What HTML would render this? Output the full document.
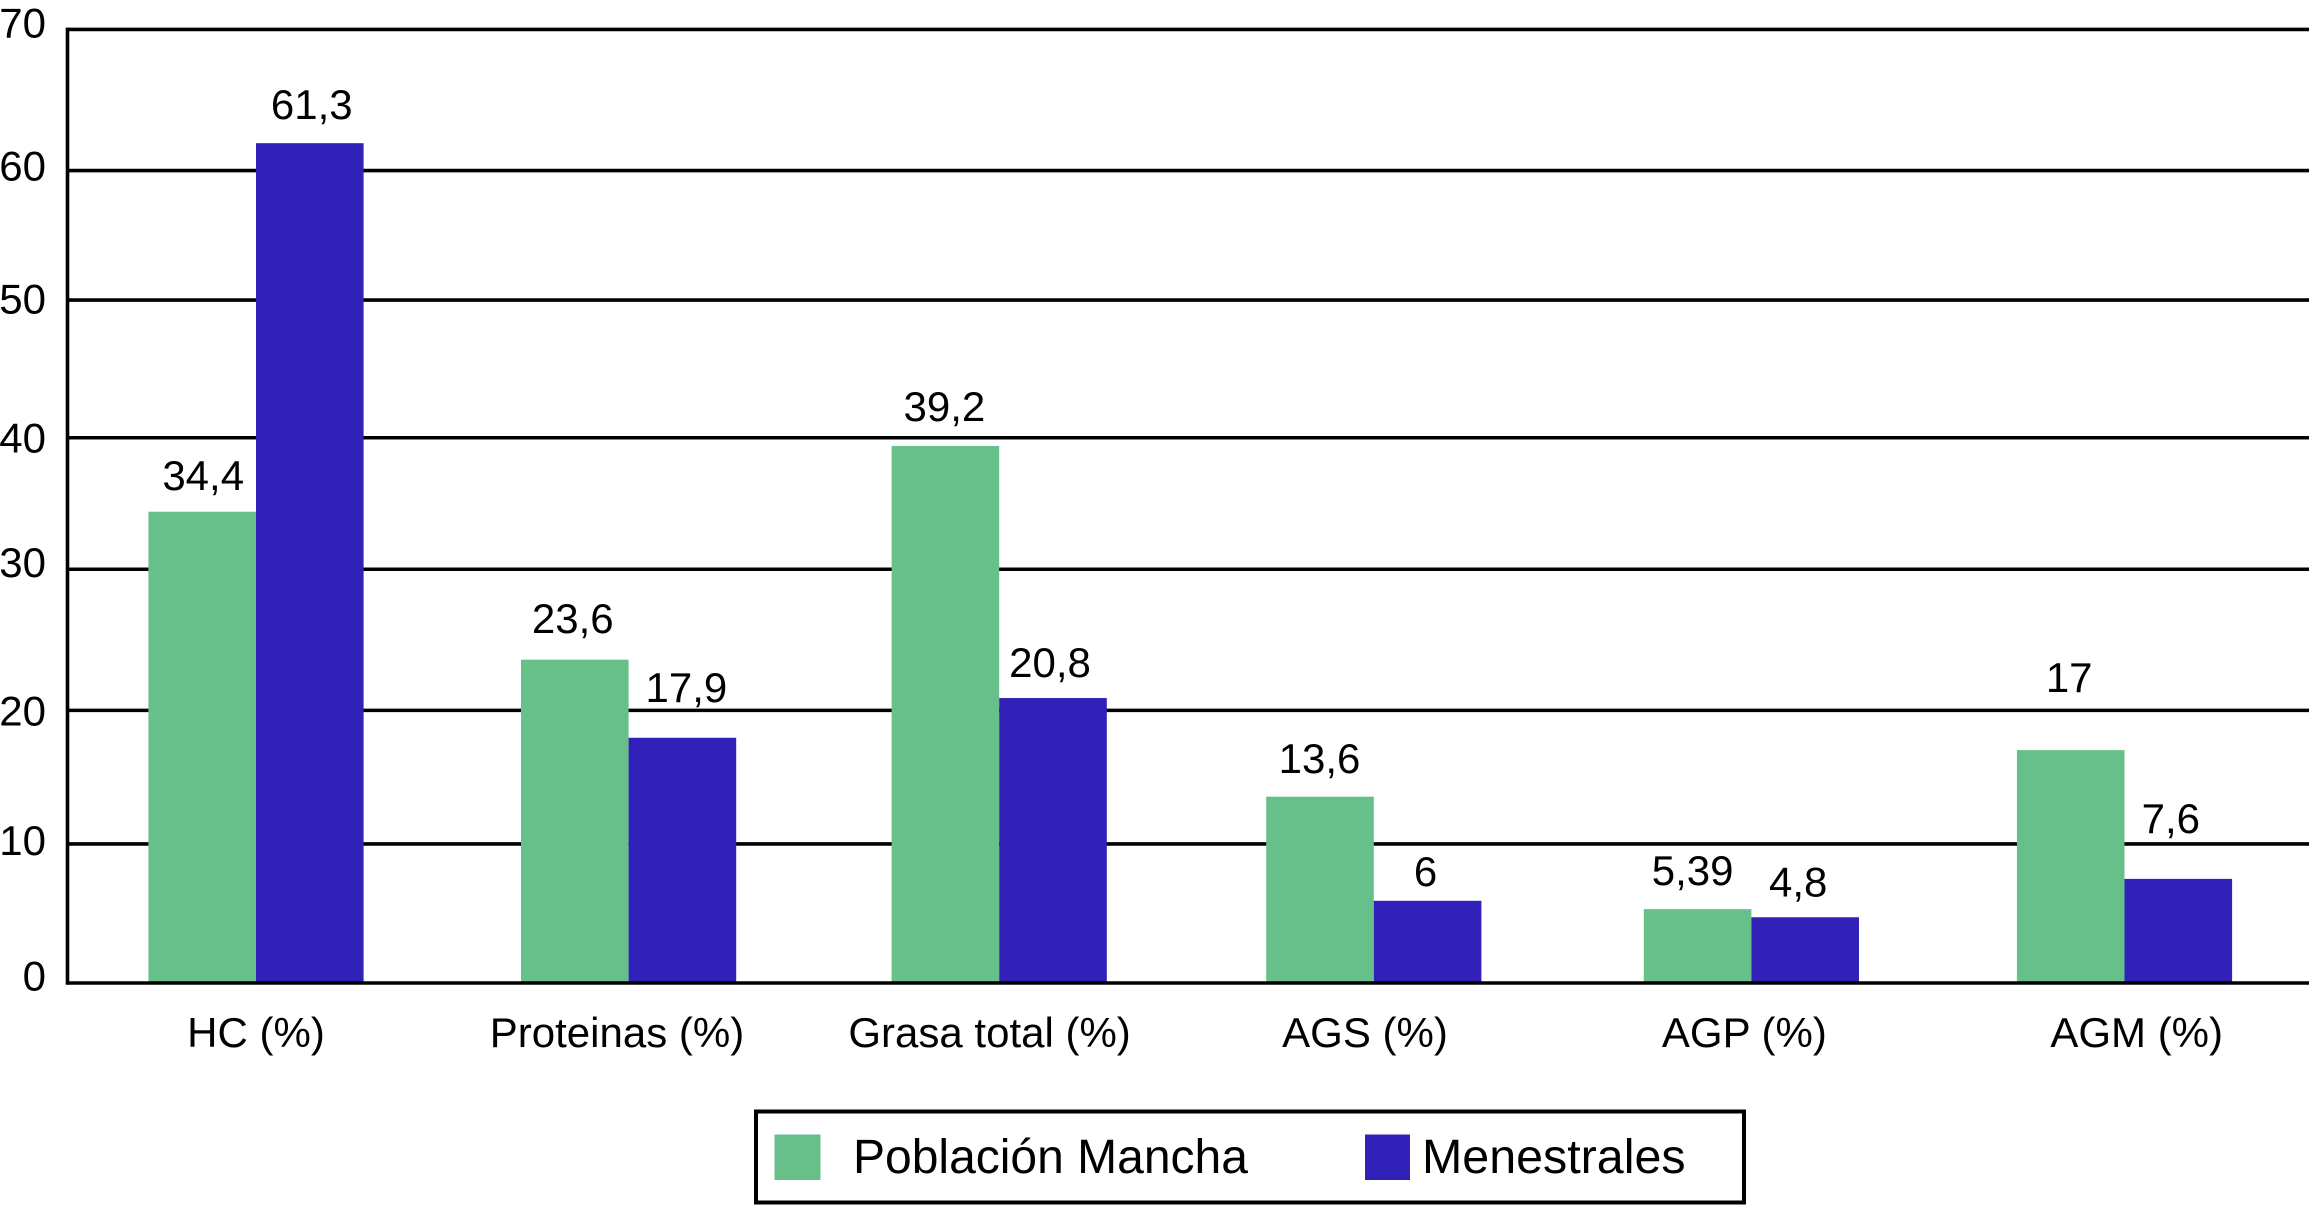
<!DOCTYPE html>
<html lang="es">
<head>
<meta charset="utf-8">
<title>Población Mancha vs Menestrales</title>
<style>
html,body{margin:0;padding:0;background:#fff;}
svg{display:block;}
text{font-family:"Liberation Sans",Arial,sans-serif;font-size:42px;fill:#000;}
</style>
</head>
<body>
<svg id="chart" xmlns="http://www.w3.org/2000/svg" width="2309" height="1206" viewBox="0 0 2309 1206">
  <rect x="0" y="0" width="2309" height="1206" fill="#ffffff"/>
  <g id="grid"></g>
  <g id="bars"></g>
  <g id="axes"></g>
  <g id="yticks"></g>
  <g id="xticks"></g>
  <g id="values"></g>
  <g>
    <rect x="756" y="1111.5" width="988" height="91" fill="#ffffff" stroke="#000000" stroke-width="4"/>
    <rect x="774.5" y="1134.5" width="46" height="45.5" fill="#67c08a"/>
    <text x="853" y="1173" style="font-size:48px">Población Mancha</text>
    <rect x="1365" y="1134.5" width="45" height="45.5" fill="#3221b8"/>
    <text x="1422" y="1173" style="font-size:48.4px">Menestrales</text>
  </g>
</svg>
<script>
const categories = ["HC (%)", "Proteinas (%)", "Grasa total (%)", "AGS (%)", "AGP (%)", "AGM (%)"];
const poblacionMancha = [34.4, 23.6, 39.2, 13.6, 5.39, 17];
const menestrales = [61.3, 17.9, 20.8, 6, 4.8, 7.6];
const tickLabels = [0, 10, 20, 30, 40, 50, 60, 70];
const gridLevels = [0, 10.15, 19.9, 30.2, 39.8, 49.85, 59.3, 69.6];

const groupNudgeX = [0, -1, -4, -3, 1, 0.5];
const tickBaselineNudge = [7.5, 11, 15, 7.5, 15, 13.5, 9.7, 8];
const categoryLabelNudge = [0, -11.6, -9.6, -8.8, -7, 12.2];
const manchaLabelNudgeX = [1, -2, -1, -0.5, -5, -1.5];
const menestralesLabelNudgeX = [2, 4, -3, -2, -7, -7.5];
const manchaLabelGap = [21.7, 26.7, 25, 23.7, 24.2, 58];
const menestralesLabelGap = [24.2, 35.8, 21, 14.8, 20.5, 45.9];

const SVG_NS = "http://www.w3.org/2000/svg";
const BASE_Y = 983, PX_PER_UNIT = 13.7;
const FIRST_GROUP_X = 256, GROUP_STEP = 373.6, BAR_WIDTH = 107.6;
const AXIS_X = 67.5, RIGHT_EDGE = 2309, LINE_WIDTH = 3.6;
const GREEN = "#67c08a", BLUE = "#3221b8";

function yScale(v) { return BASE_Y - v * PX_PER_UNIT; }
function xScale(i) { return FIRST_GROUP_X + i * GROUP_STEP + groupNudgeX[i]; }
function fmt(v) { return String(v).replace(".", ","); }
function slug(s) { return s.toLowerCase().replace(/[^a-z0-9]+/g, "-").replace(/^-|-$/g, ""); }

const gridG = document.getElementById("grid");
const barsG = document.getElementById("bars");
const axesG = document.getElementById("axes");
const yTicksG = document.getElementById("yticks");
const xTicksG = document.getElementById("xticks");
const valuesG = document.getElementById("values");

function drawLine(parent, name, x1, y1, x2, y2) {
  const el = document.createElementNS(SVG_NS, "line");
  
  
  el.setAttribute("x1", x1);
  el.setAttribute("y1", y1);
  el.setAttribute("x2", x2);
  el.setAttribute("y2", y2);
  el.setAttribute("stroke", "#000");
  el.setAttribute("stroke-width", LINE_WIDTH);
  parent.appendChild(el);
}

function drawText(parent, name, x, y, str, anchor) {
  const el = document.createElementNS(SVG_NS, "text");
  
  
  el.setAttribute("x", x);
  el.setAttribute("y", y);
  el.setAttribute("text-anchor", anchor);
  el.textContent = str;
  parent.appendChild(el);
}

function drawBar(name, x, value, color) {
  const el = document.createElementNS(SVG_NS, "rect");
  
  
  el.setAttribute("x", x);
  el.setAttribute("y", yScale(value));
  el.setAttribute("width", BAR_WIDTH);
  el.setAttribute("height", BASE_Y - yScale(value));
  el.setAttribute("fill", color);
  barsG.appendChild(el);
}

gridLevels.forEach(function (level, i) {
  if (i > 0) drawLine(gridG, "gridline-" + tickLabels[i], AXIS_X, yScale(level), RIGHT_EDGE, yScale(level));
  drawText(yTicksG, "y-tick-label-" + tickLabels[i], 46, yScale(level) + tickBaselineNudge[i], String(tickLabels[i]), "end");
});

categories.forEach(function (cat, i) {
  const c = xScale(i);
  const key = slug(cat);
  drawBar("bar-mancha-" + key, c - BAR_WIDTH, poblacionMancha[i], GREEN);
  drawBar("bar-menestrales-" + key, c, menestrales[i], BLUE);
  drawText(xTicksG, "x-category-label-" + key, c + categoryLabelNudge[i], 1047, cat, "middle");
  drawText(valuesG, "value-label-mancha-" + key, c - BAR_WIDTH / 2 + manchaLabelNudgeX[i], yScale(poblacionMancha[i]) - manchaLabelGap[i], fmt(poblacionMancha[i]), "middle");
  drawText(valuesG, "value-label-menestrales-" + key, c + BAR_WIDTH / 2 + menestralesLabelNudgeX[i], yScale(menestrales[i]) - menestralesLabelGap[i], fmt(menestrales[i]), "middle");
});

drawLine(axesG, "y-axis-line", AXIS_X, yScale(gridLevels[gridLevels.length - 1]) - LINE_WIDTH / 2, AXIS_X, BASE_Y + LINE_WIDTH / 2);
drawLine(axesG, "x-axis-line", AXIS_X, BASE_Y, RIGHT_EDGE, BASE_Y);
</script>
</body>
</html>
